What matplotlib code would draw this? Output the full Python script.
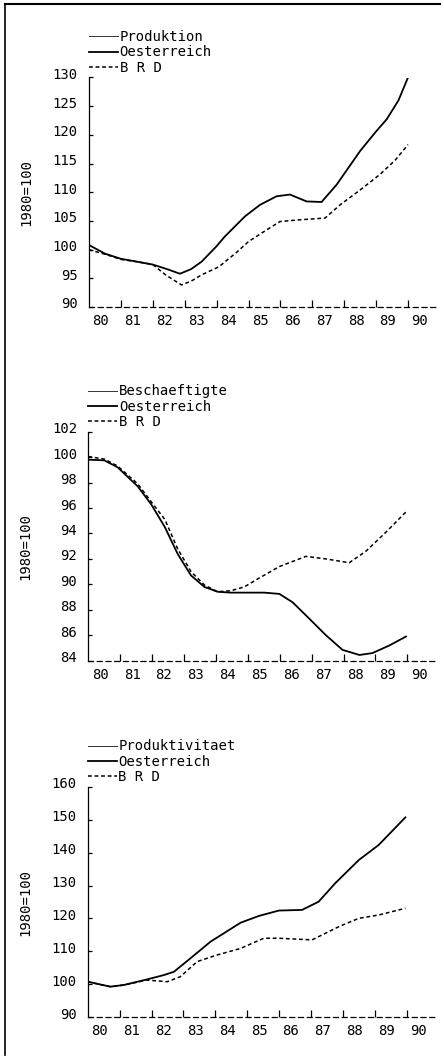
import matplotlib
matplotlib.use("Agg")
import matplotlib.pyplot as plt
import matplotlib.transforms as mtransforms
from matplotlib.lines import Line2D

# Zeitachse: 0 = 1980 ... 10 = 1990
jahre = ['80', '81', '82', '83', '84', '85', '86', '87', '88', '89', '90']
y_titel = '1980=100'
laender = ['Oesterreich', 'B R D']
titel = ['Produktion', 'Beschaeftigte', 'Produktivitaet']

# Produktion
prod_oe_x = [0, 0.5, 1.0, 1.5, 2.0, 2.5, 2.85, 3.2, 3.53, 4.0, 4.26, 4.89, 5.36, 5.88,
             6.3, 6.82, 7.29, 7.76, 8.5, 9.0, 9.33, 9.7, 10.0]
prod_oe = [100.8, 99.3, 98.4, 97.9, 97.4, 96.5, 95.8, 96.6, 97.9, 100.6, 102.3, 105.8, 107.8, 109.3,
           109.6, 108.4, 108.3, 111.3, 117.2, 120.6, 122.7, 126.0, 130.0]
prod_brd_x = [0, 0.5, 1.0, 1.5, 2.0, 2.4, 2.9, 3.2, 3.53, 4.07, 4.6, 5.0, 5.5, 5.99,
              6.61, 7.4, 7.87, 8.5, 9.12, 9.6, 10.0]
prod_brd = [100.0, 99.2, 98.3, 97.9, 97.4, 95.6, 93.85, 94.5, 95.6, 97.0, 99.4, 101.4, 103.2, 104.9,
            105.2, 105.5, 107.8, 110.4, 113.1, 115.6, 118.3]

# Beschaeftigte
besch_oe_x = [0, 0.5, 0.92, 1.55, 1.97, 2.4, 2.8, 3.22, 3.64, 4.05, 4.47, 4.89, 5.52, 5.99,
              6.4, 6.93, 7.45, 7.97, 8.5, 8.91, 9.44, 9.96]
besch_oe = [99.8, 99.75, 99.2, 97.7, 96.3, 94.5, 92.4, 90.7, 89.8, 89.42, 89.35, 89.35, 89.35, 89.25,
            88.6, 87.3, 86.0, 84.85, 84.45, 84.6, 85.2, 85.9]
besch_brd_x = [0, 0.5, 0.92, 1.55, 1.97, 2.4, 2.8, 3.22, 3.64, 4.05, 4.47, 4.89, 5.36, 5.99,
               6.82, 7.45, 8.18, 8.7, 9.33, 9.96]
besch_brd = [100.05, 99.85, 99.3, 97.9, 96.5, 95.1, 92.8, 91.0, 89.95, 89.42, 89.5, 89.8, 90.5, 91.4,
             92.2, 92.0, 91.7, 92.6, 94.1, 95.7]

# Produktivitaet
pk_oe_x = [0, 0.71, 1.13, 1.86, 2.38, 2.7, 3.22, 3.85, 4.79, 5.36, 5.99, 6.72, 7.24, 7.76,
           8.5, 9.12, 9.96]
pk_oe = [100.8, 99.3, 99.8, 101.5, 102.8, 103.8, 107.9, 112.95, 118.7, 120.75, 122.4, 122.6, 125.1, 130.7,
         137.75, 142.3, 150.7]
pk_brd_x = [0, 0.71, 1.13, 1.86, 2.49, 2.9, 3.43, 4.05, 4.79, 5.52, 5.99, 7.03, 7.87, 8.5,
            9.12, 9.96]
pk_brd = [100.8, 99.3, 99.8, 101.3, 100.8, 102.3, 106.9, 108.9, 110.9, 114.0, 114.0, 113.5, 117.5, 120.05,
          121.05, 123.1]

W, H = 444, 1059
fig = plt.figure(figsize=(W / 100, H / 100), dpi=100)
plt.rcParams['font.family'] = ['DejaVu Sans Mono', 'DejaVu Sans']
fs = 10

def rect(left, top, right, bottom):
    return [left / W, 1 - bottom / H, (right - left) / W, (bottom - top) / H]

def panel(box, ylim, ystep, data, name):
    ax = fig.add_axes(rect(*box))
    (xo, yo), (xb, yb) = data
    l1, = ax.plot(xo, yo, color='black', lw=1.3)
    l2, = ax.plot(xb, yb, color='black', lw=1.1, dashes=(2.5, 1.8))
    ax.set_xlim(0, (box[2] - box[0]) / 31.9)
    ax.set_ylim(*ylim)
    ax.set_yticks(range(ylim[0], ylim[1] + 1, ystep))
    ax.set_xticks([i + 0.37 for i in range(len(jahre))])
    ax.set_xticklabels(jahre)
    ax.set_xticks(range(1, 11), minor=True)
    ax.tick_params(axis='x', which='major', length=0, pad=5, labelsize=fs)
    ax.tick_params(axis='x', which='minor', direction='in', length=5, width=0.9)
    ax.tick_params(axis='y', direction='in', length=3, width=0.9, pad=8, labelsize=fs)
    off = mtransforms.ScaledTranslation(0, 0.04, fig.dpi_scale_trans)
    for lab in ax.get_yticklabels():
        lab.set_transform(lab.get_transform() + off)
    ax.spines['top'].set_visible(False)
    ax.spines['right'].set_visible(False)
    ax.spines['bottom'].set_linestyle((0, (4, 3)))
    ax.spines['bottom'].set_linewidth(0.9)
    ax.spines['left'].set_linewidth(0.9)
    ax.set_ylabel(y_titel, fontsize=fs)
    ax.yaxis.set_label_coords(-0.16, 0.5)
    kopf = Line2D([], [], color='#333333', lw=0.7)
    ax.legend([kopf, l1, l2], [name] + laender, loc='lower left',
              bbox_to_anchor=(0, 1.0 + 3 / (box[3] - box[1])), frameon=False,
              fontsize=fs, borderpad=0, borderaxespad=0, handlelength=2.1,
              handletextpad=0.1, labelspacing=0.08)
    return ax

panel((89, 77.5, 437, 307), (90, 130), 5, ((prod_oe_x, prod_oe), (prod_brd_x, prod_brd)), titel[0])
panel((88.3, 431.7, 436, 660.7), (84, 102), 2, ((besch_oe_x, besch_oe), (besch_brd_x, besch_brd)), titel[1])
panel((87.7, 786.7, 435, 1017.3), (90, 160), 10, ((pk_oe_x, pk_oe), (pk_brd_x, pk_brd)), titel[2])

# Rahmen des Scans
fig.add_artist(Line2D([5 / W, 440 / W], [1 - 4 / H, 1 - 4 / H], color='black', lw=1.5,
                      transform=fig.transFigure))
fig.add_artist(Line2D([5 / W, 5 / W], [1 - 4 / H, 1 - 1055 / H], color='black', lw=1.2,
                      transform=fig.transFigure))

fig.savefig('out.png', dpi=100)
